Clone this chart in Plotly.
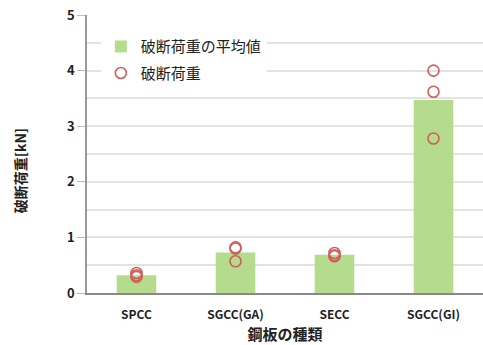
import plotly.graph_objects as go

# Steel sheet types
categories = ["SPCC", "SGCC(GA)", "SECC", "SGCC(GI)"]
# Individual breaking loads [kN], three specimens per type
load_run1 = [0.36, 0.82, 0.72, 4.00]
load_run2 = [0.32, 0.80, 0.68, 3.62]
load_run3 = [0.29, 0.57, 0.66, 2.78]
# Mean breaking load [kN]
mean_load = [0.32, 0.73, 0.69, 3.47]

FONT = "Noto Sans CJK JP"

pts_x = categories * 3
pts_y = load_run1 + load_run2 + load_run3

fig = go.Figure()
fig.add_trace(go.Bar(
    x=categories, y=mean_load, name="破断荷重の平均値", legendgroup="mean",
    marker=dict(color="#b5dc8c", line=dict(width=0)), width=0.4,
))
fig.add_trace(go.Scatter(
    x=pts_x, y=pts_y, mode="markers", name="破断荷重", legendgroup="each",
    marker=dict(symbol="circle-open", size=11, color="#cf5f5a", line=dict(width=1.6)),
))

fig.update_layout(
    width=483, height=345,
    margin=dict(l=87, r=0, t=15, b=52),
    paper_bgcolor="white", plot_bgcolor="white",
    font=dict(family=FONT, color="#222"),
    showlegend=True,
    legend=dict(
        x=0.035, y=0.945, xanchor="left", yanchor="top",
        bgcolor="white", font=dict(size=15, family=FONT, color="#222"),
        itemwidth=30, tracegroupgap=4,
    ),
    xaxis=dict(
        title=dict(text="鋼板の種類", font=dict(size=15, family=FONT, weight="bold"), standoff=8),
        tickfont=dict(size=12, family=FONT, weight="bold"),
        ticklabelstandoff=10,
        showline=True, linecolor="#888", linewidth=1.5,
        ticks="", showgrid=False,
    ),
    yaxis=dict(
        range=[0, 5], tickvals=[0, 1, 2, 3, 4, 5],
        tickfont=dict(size=13, family=FONT, weight="bold"),
        showline=True, linecolor="#999", linewidth=1.5,
        ticks="outside", ticklen=8, tickcolor="#bbb", tickwidth=1,
        showgrid=True, gridcolor="#e2e2e2", gridwidth=1.5,
        minor=dict(dtick=0.5, showgrid=True, gridcolor="#e2e2e2", gridwidth=1.5),
        zeroline=False,
    ),
    annotations=[dict(
        text="破断荷重[kN]", textangle=-90, showarrow=False,
        xref="paper", yref="paper", x=-0.17, y=0.44,
        xanchor="center", yanchor="middle",
        font=dict(size=14, family=FONT, weight="bold", color="#222"),
    )],
)

fig.write_html("out.html")
